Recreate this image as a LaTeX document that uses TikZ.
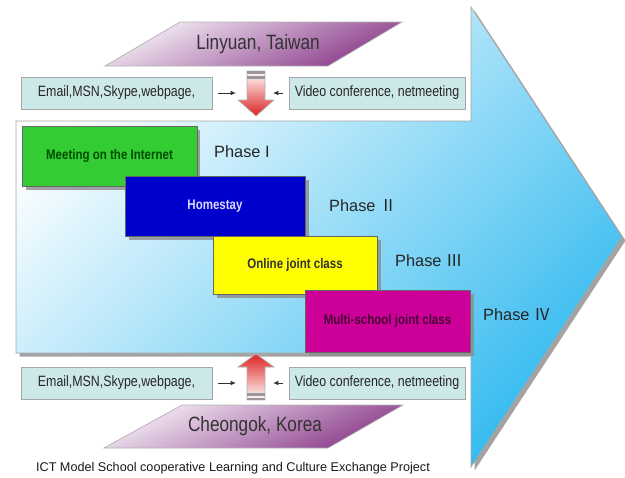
\documentclass[tikz,border=0pt]{standalone}
\usepackage{fontspec}
\setmainfont{Liberation Sans}[FakeStretch=0.83]
\newfontfamily\plainfont{Liberation Sans}
\newfontfamily\numfont{Noto Sans CJK KR}
\usetikzlibrary{shadows,arrows.meta}

\definecolor{skyarrow}{HTML}{38BCF0}
\definecolor{boxteal}{HTML}{CDE8E8}
\definecolor{plum}{HTML}{8A3A8A}
\definecolor{lilac}{HTML}{C8A6CC}
\definecolor{phasegreen}{HTML}{33CC33}
\definecolor{phaseblue}{HTML}{0000CC}
\definecolor{phaseyellow}{HTML}{FFFF00}
\definecolor{phasemagenta}{HTML}{CC0099}
\definecolor{arrowred}{HTML}{DD2222}

\begin{document}
\begin{tikzpicture}[x=0.02cm, y=-0.02cm,
    shade/.style={drop shadow={shadow xshift=2pt, shadow yshift=-2pt, fill=black!45, opacity=.8}},
    place/.style={draw=gray!60, top color=white!92!plum, middle color=lilac, bottom color=plum, shading angle=25},
    placetext/.style={font=\fontsize{11.8}{14}\selectfont, text=black!80},
    media/.style={draw=gray!70, fill=boxteal, minimum height=0.64cm, inner sep=0pt,
        font=\fontsize{8.5}{10}\selectfont, text=black!85},
    phasebox/.style={draw=black!60, minimum height=1.2cm, inner sep=0pt, shade,
        font=\fontsize{7.9}{9}\selectfont\bfseries},
    phaselabel/.style={anchor=west, font=\plainfont\fontsize{9.3}{11}\selectfont, text=black!85},
    link/.style={-{Latex[length=3pt,width=2.6pt]}, black!80, line width=0.5pt}]

    \useasboundingbox (0,0) rectangle (625,477);

    % Big arrow
    \path[draw=gray!70, top color=white, bottom color=skyarrow, shading angle=45, shade]
        (16,121) -- (471,121) -- (471,7) -- (622,237) -- (471,467) -- (471,353) -- (16,353) -- cycle;

    % Linyuan, Taiwan
    \path[place] (180,22) -- (402,22) -- (328,66) -- (105,66) -- cycle;
    \node[placetext] (taiwan) at (258,44) {Linyuan, Taiwan};

    \node[media, minimum width=3.82cm] (mailtop) at (116.5,93) {Email,MSN,Skype,webpage,};
    \node[media, minimum width=3.52cm] (videotop) at (377,93) {Video conference, netmeeting};

    % down arrow
    \path[draw=gray!60, top color=white, bottom color=arrowred]
        (247,71) -- (265,71) -- (265,100) -- (274,100) -- (256,116) -- (238,100) -- (247,100) -- cycle;
    \fill[gray!80] (247,71) rectangle (265,74);
    \fill[gray!80] (247,76) rectangle (265,79);
    \coordinate (downL) at (247,93);
    \coordinate (downR) at (265,93);
    \draw[link, shorten <=0.12cm, shorten >=0.22cm] (mailtop.east) -- (downL);
    \draw[link, shorten <=0.12cm, shorten >=0.16cm] (videotop.west) -- (downR);

    % Phases
    \node[phasebox, fill=phasegreen, minimum width=3.5cm, text=black!70!green]
        (meeting) at (109.5,156) {Meeting on the Internet};
    \node[phaselabel] (phase1) at (208,152) {Phase I};

    \node[phasebox, fill=phaseblue, minimum width=3.6cm, text=white!85!blue]
        (homestay) at (215,206) {Homestay};
    \node[phaselabel] (phase2) at (323,206) {Phase {\numfont Ⅱ}};

    \node[phasebox, fill=phaseyellow, minimum width=3.28cm, minimum height=1.16cm, text=black!80]
        (online) at (295,265) {Online joint class};
    \node[phaselabel] (phase3) at (389,261) {Phase {\numfont Ⅲ}};

    \node[phasebox, fill=phasemagenta, minimum width=3.3cm, minimum height=1.24cm, text=black!65!phasemagenta]
        (multi) at (387.5,321) {Multi-school joint class};
    \node[phaselabel] (phase4) at (477,315) {Phase {\numfont Ⅳ}};

    % Cheongok, Korea
    \node[media, minimum width=3.82cm] (mailbot) at (116.5,383) {Email,MSN,Skype,webpage,};
    \node[media, minimum width=3.52cm] (videobot) at (377,383) {Video conference, netmeeting};

    % up arrow
    \path[draw=gray!60, top color=arrowred, bottom color=white]
        (256,354) -- (274,367) -- (265,367) -- (265,400) -- (247,400) -- (247,367) -- (238,367) -- cycle;
    \fill[gray!80] (247,393) rectangle (265,396);
    \fill[gray!80] (247,398) rectangle (265,400);
    \coordinate (upL) at (247,383);
    \coordinate (upR) at (265,383);
    \draw[link, shorten <=0.12cm, shorten >=0.22cm] (mailbot.east) -- (upL);
    \draw[link, shorten <=0.12cm, shorten >=0.16cm] (videobot.west) -- (upR);

    \path[place] (182,405) -- (403,405) -- (328,448) -- (104,448) -- cycle;
    \node[placetext] (korea) at (255,426) {Cheongok, Korea};

    % caption
    \node[font=\plainfont\fontsize{7.2}{9}\selectfont, text=black!90] (caption) at (233,468)
        {ICT Model School cooperative Learning and Culture Exchange Project};
\end{tikzpicture}
\end{document}
